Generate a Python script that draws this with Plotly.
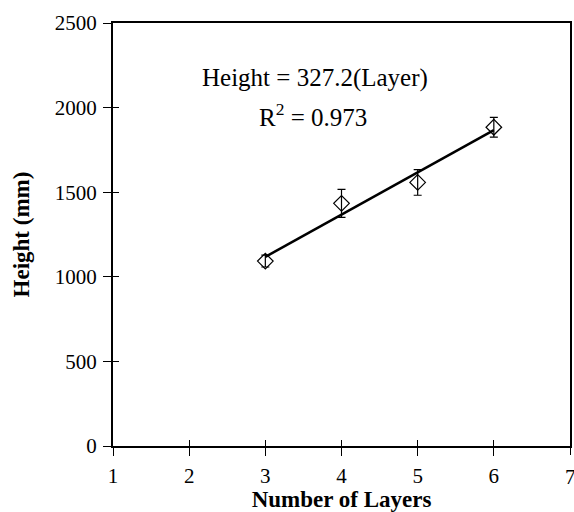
import numpy as np
import plotly.graph_objects as go

layers = [3, 4, 5, 6]
heights = [1093, 1434, 1558, 1884]
errors = [35, 83, 76, 58]
x_ticks = [1, 2, 3, 4, 5, 6, 7]
y_ticks = [0, 500, 1000, 1500, 2000, 2500]
eq_text = "Height = 327.2(Layer)"
r2_text = "R<sup>2</sup> = 0.973"

slope, intercept = np.polyfit(layers, heights, 1)
fit_x = [min(layers), max(layers)]
fit_y = [slope * v + intercept for v in fit_x]

FONT = "Liberation Serif"
tfont = dict(family=FONT, size=21, color="black")

fig = go.Figure()
fig.add_trace(go.Scatter(
    x=fit_x, y=fit_y, mode="lines",
    line=dict(color="black", width=2.5), showlegend=False, hoverinfo="skip"))
fig.add_trace(go.Scatter(
    x=layers, y=heights, mode="markers",
    marker=dict(symbol="diamond-open", size=12, color="black", line=dict(width=1.2)),
    error_y=dict(type="data", array=errors, visible=True, color="black", thickness=1.2, width=4),
    showlegend=False))

fig.add_annotation(x=0.442, y=0.870, xref="paper", yref="paper", text=eq_text,
                   xanchor="center", yanchor="middle",
                   showarrow=False, font=dict(family=FONT, size=25, color="black"))
fig.add_annotation(x=0.437, y=0.783, xref="paper", yref="paper", text=r2_text,
                   xanchor="center", yanchor="middle",
                   showarrow=False, font=dict(family=FONT, size=25, color="black"))
# last x tick label (clipped at the right page edge, as in the reference)
fig.add_annotation(x=x_ticks[-1], y=0, xref="x", yref="paper", text=str(x_ticks[-1]),
                   xanchor="center", yanchor="top", yshift=-17,
                   showarrow=False, font=tfont)

fig.update_layout(
    width=574, height=512,
    margin=dict(l=113, r=2, t=23, b=66),
    paper_bgcolor="white", plot_bgcolor="white",
    font=dict(family=FONT, color="black"),
    xaxis=dict(range=[1, 7], tickvals=x_ticks[:-1], ticks="outside", ticklen=8,
               showgrid=False, zeroline=False, linecolor="black", linewidth=2,
               tickcolor="black", tickwidth=1.2, mirror=True, tickfont=tfont,
               ticklabelstandoff=2,
               title=dict(text="<b>Number of Layers</b>",
                          font=dict(family=FONT, size=23, color="black"), standoff=4)),
    yaxis=dict(range=[0, 2500], tickvals=y_ticks, ticks="outside", ticklen=8,
               showgrid=False, zeroline=False, linecolor="black", linewidth=2,
               tickcolor="black", tickwidth=1.2, mirror=True, tickfont=tfont,
               ticklabelstandoff=2,
               title=dict(text="<b>Height (mm)</b>",
                          font=dict(family=FONT, size=23, color="black"), standoff=19)),
    xaxis2=dict(range=[1, 7], tickvals=x_ticks, ticks="outside", ticklen=8, overlaying="x",
                side="bottom", showticklabels=False, showgrid=False, zeroline=False,
                tickcolor="black", tickwidth=1.2, showline=False),
    xaxis3=dict(range=[1, 7], tickvals=x_ticks, ticks="inside", ticklen=6, overlaying="x",
                side="bottom", showticklabels=False, showgrid=False, zeroline=False,
                tickcolor="black", tickwidth=1.2, showline=False),
    yaxis2=dict(range=[0, 2500], tickvals=y_ticks, ticks="inside", ticklen=6, overlaying="y",
                side="left", showticklabels=False, showgrid=False, zeroline=False,
                tickcolor="black", tickwidth=1.2, showline=False),
)
fig.add_trace(go.Scatter(x=[None], y=[None], xaxis="x2", yaxis="y2", showlegend=False))
fig.add_trace(go.Scatter(x=[None], y=[None], xaxis="x3", yaxis="y2", showlegend=False))

fig.write_html("out.html")
